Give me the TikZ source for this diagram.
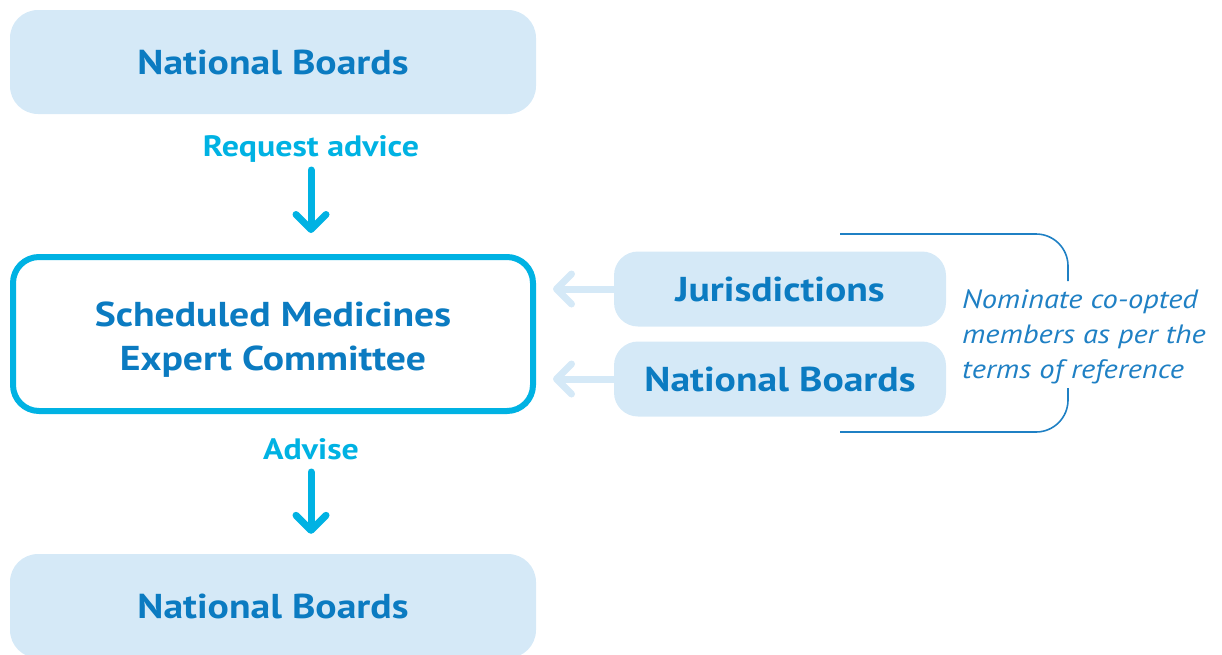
\documentclass[tikz,border=0pt]{standalone}
\usepackage{fontspec}
\setmainfont{PT Sans}[FakeStretch=1.15]
\usetikzlibrary{arrows.meta}

\definecolor{boxfill}{HTML}{D5E9F7}
\definecolor{textblue}{HTML}{0B7BC1}
\definecolor{flowcyan}{HTML}{00B2E3}
\definecolor{bracketblue}{HTML}{1F80C4}

\tikzset{
  board/.style={rounded corners=28pt, fill=boxfill, text=textblue,
    minimum width=526pt, minimum height=104pt,
    font=\fontsize{34.5}{40}\selectfont\bfseries},
  member/.style={rounded corners=24pt, fill=boxfill, text=textblue,
    minimum width=332pt, minimum height=75pt,
    font=\fontsize{34.5}{40}\selectfont\bfseries},
  committee/.style={rounded corners=26pt, draw=flowcyan, line width=6pt,
    fill=white, text=textblue, align=center, text height=79pt,
    minimum width=520pt, minimum height=154pt,
    font=\fontsize{34.5}{44}\selectfont\bfseries},
  flowlabel/.style={text=flowcyan, font=\fontsize{29.5}{34}\selectfont\bfseries},
  downarrow/.style={draw=flowcyan, line width=7pt, line cap=round,
    -{Straight Barb[length=15pt,width=30pt,round]}},
  nominate/.style={draw=boxfill, line width=7pt, line cap=round,
    -{Straight Barb[length=15pt,width=30pt,round]}}
}

\begin{document}
\begin{tikzpicture}[x=1pt,y=-1pt]
\useasboundingbox (0,0) rectangle (1222,654);
\clip (0,0) rectangle (1222,654);

% main column
\node[board] (topboard) at (273,62) {National Boards};
\node[flowlabel] (request) at (311,149) {Request advice};
\node[committee] (smec) at (273,334) {Scheduled Medicines\\Expert Committee};
\node[flowlabel] (advise) at (311,449) {Advise};
\node[board] (bottomboard) at (273,606) {National Boards};

\draw[downarrow, shorten <=21pt, shorten >=21pt] (request.center) -- (request.center |- smec.north);
\draw[downarrow, shorten <=23pt, shorten >=20pt] (advise.center) -- (advise.center |- bottomboard.north);

% co-opted members
\node[member] (jur) at (780,289) {Jurisdictions};
\node[member] (sideboard) at (780,379) {National Boards};

\draw[nominate, shorten >=17pt] (jur) -- (jur -| smec.east);
\draw[nominate, shorten >=17pt] (sideboard) -- (sideboard -| smec.east);

% bracket and note
\draw[bracketblue, line width=1.6pt, rounded corners=32pt]
  (840,234) -- (1068,234) -- (1068,281);
\draw[bracketblue, line width=1.6pt, rounded corners=32pt]
  (1068,388) -- (1068,432) -- (840,432);
\node[anchor=west, align=left, text=bracketblue, inner sep=0pt,
  font=\fontsize{26.5}{35}\selectfont\itshape] (note) at (962,337)
  {Nominate co-opted\\members as per the\\terms of reference};
\end{tikzpicture}
\end{document}
